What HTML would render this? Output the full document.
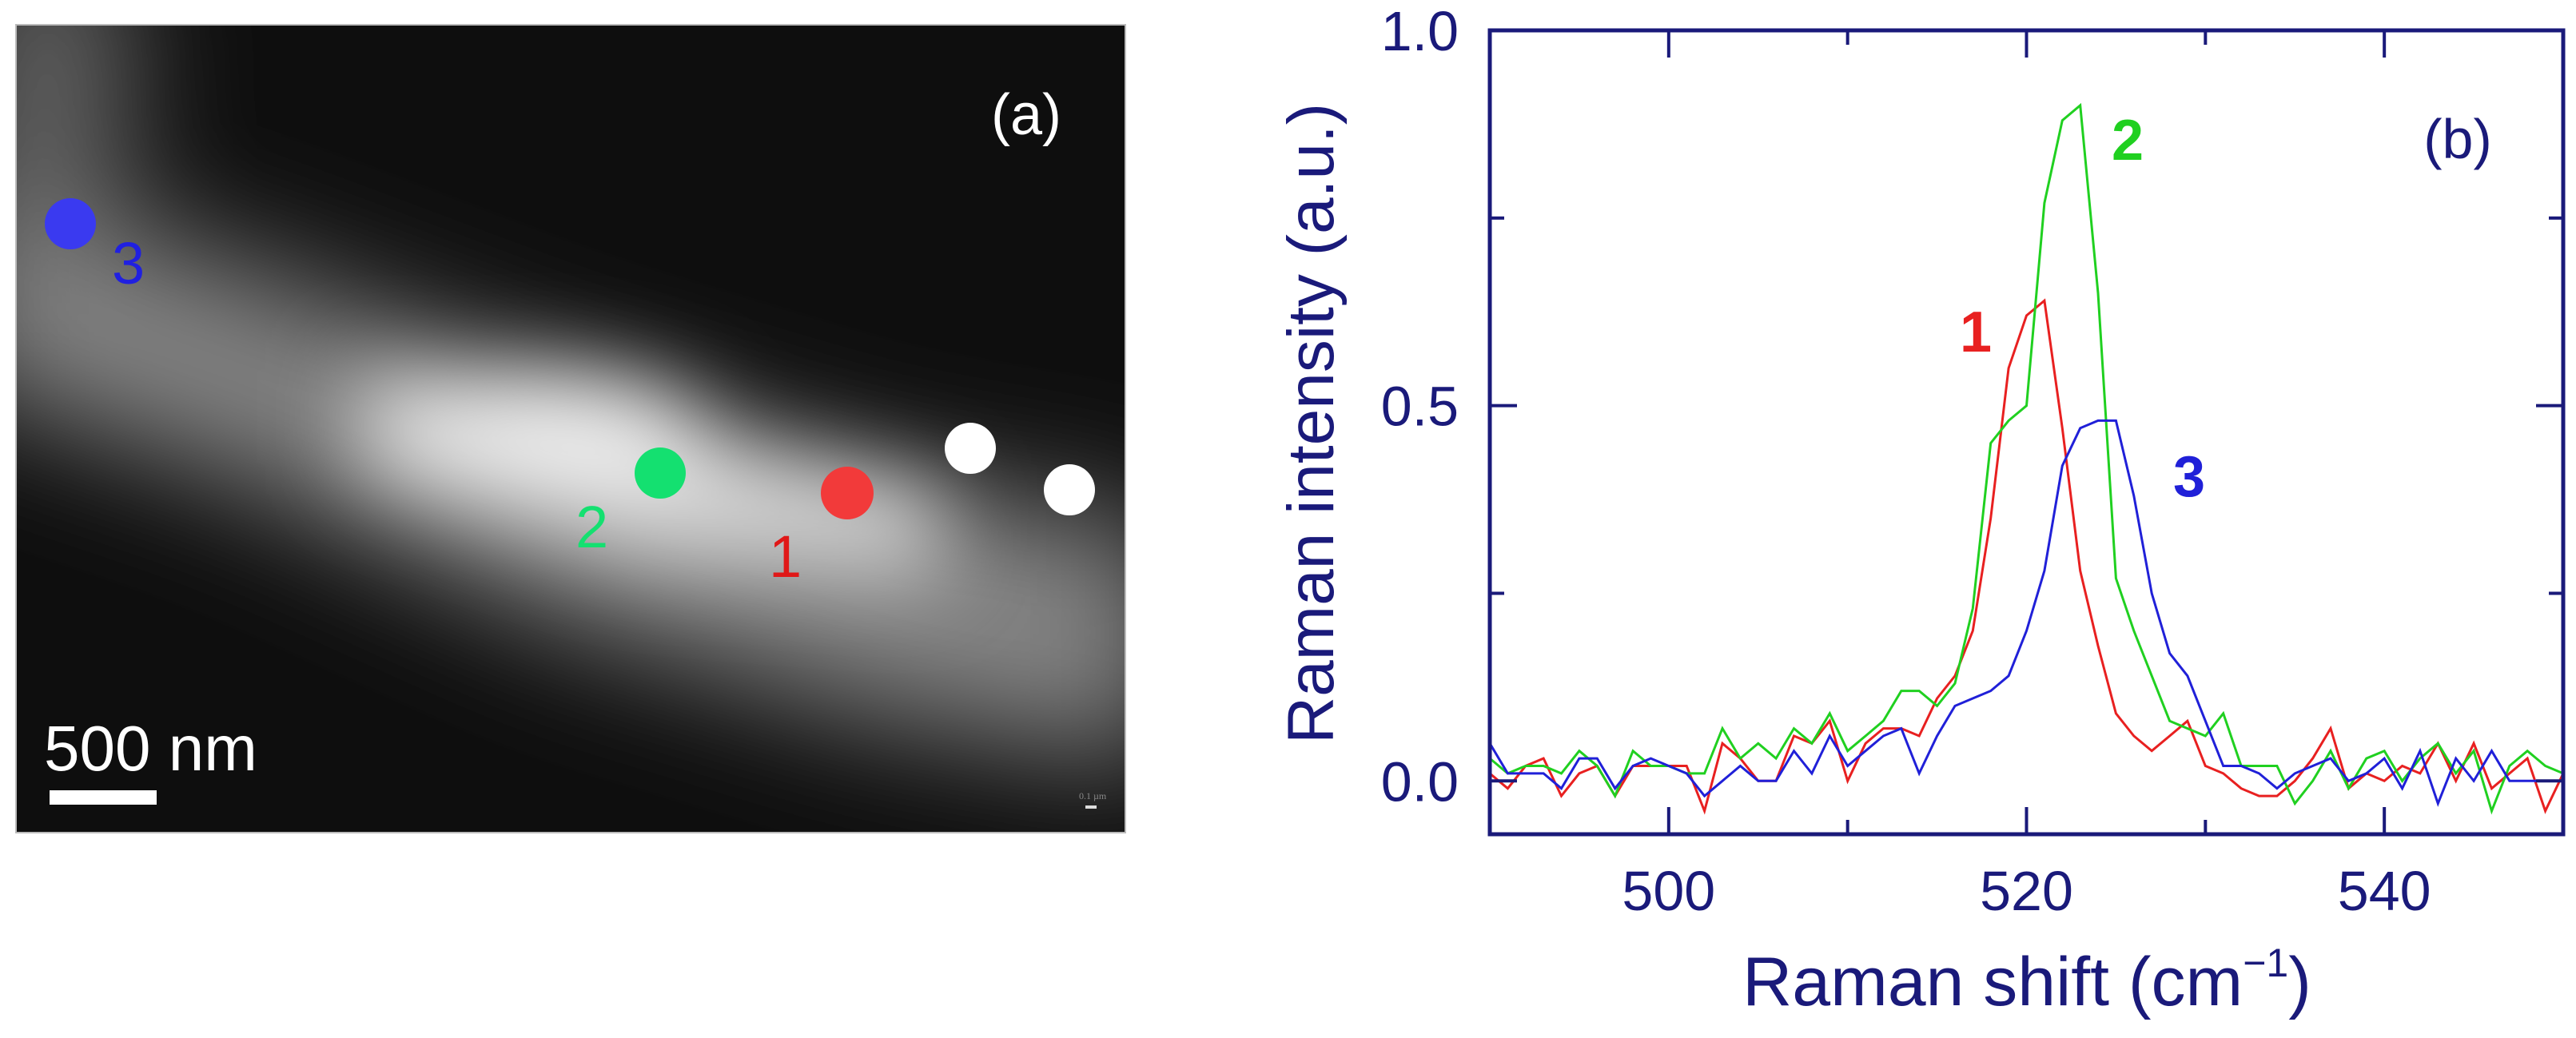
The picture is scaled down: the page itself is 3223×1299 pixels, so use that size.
<!DOCTYPE html>
<html><head><meta charset="utf-8"><style>
html,body{margin:0;padding:0;background:#fff;}
svg{display:block;font-family:"Liberation Sans",sans-serif;}
</style></head><body>
<svg id="fig" width="3223" height="1299" viewBox="0 0 3223 1299">
<defs>
<clipPath id="imgclip"><rect x="20" y="31" width="1388" height="1011"/></clipPath>
<filter id="blur" x="-50%" y="-50%" width="200%" height="200%"><feGaussianBlur stdDeviation="80"/></filter>
<filter id="blur2" x="-50%" y="-50%" width="200%" height="200%"><feGaussianBlur stdDeviation="55"/></filter>
<clipPath id="plotclip"><rect x="1864" y="38" width="1343" height="1006"/></clipPath>
</defs>
<g clip-path="url(#imgclip)">
<rect x="20" y="31" width="1388" height="1011" fill="#0e0e0e"/>
<g filter="url(#blur)">
<polygon points="-60,220 300,330 700,480 1100,600 1460,660 1460,960 1100,900 700,780 300,600 -60,480" fill="#858585"/>
<ellipse cx="60" cy="100" rx="100" ry="200" fill="#6a6a6a"/>
</g>
<g filter="url(#blur2)">
<polygon points="450,460 800,540 1180,620 1180,720 800,690 450,580" fill="#dcdcdc"/>
<ellipse cx="680" cy="540" rx="200" ry="70" fill="#f0f0f0"/>
</g>
</g>
<rect x="20" y="31" width="1388" height="1011" fill="none" stroke="#bbb" stroke-width="2"/>
<circle cx="88" cy="280" r="32" fill="#3a3af0"/>
<circle cx="826" cy="592" r="32" fill="#14e070"/>
<circle cx="1060" cy="617" r="33" fill="#f23a3a"/>
<circle cx="1214" cy="561" r="32" fill="#fff"/>
<circle cx="1338" cy="613" r="32" fill="#fff"/>
<text x="140" y="355" font-size="74" fill="#2020e0">3</text>
<text x="720" y="685" font-size="74" fill="#14e070">2</text>
<text x="962" y="722" font-size="74" fill="#e01818">1</text>
<text x="1240" y="168" font-size="72" fill="#fff">(a)</text>
<text x="55" y="964" font-size="80" fill="#fff">500 nm</text>
<rect x="62" y="989" width="134" height="18" fill="#fff"/>
<text x="1350" y="1000" font-size="12" fill="#888" font-family="Liberation Serif, serif">0.1 µm</text>
<rect x="1358" y="1008" width="14" height="4" fill="#ddd"/>
<g id="chart"></g>
</svg>
<script>
const xs = [];for(let i=490;i<=550;i++)xs.push(i);
const red = [0.01,-0.01,0.02,0.03,-0.02,0.01,0.02,-0.02,0.02,0.02,0.02,0.02,-0.04,0.05,0.03,0.0,0.0,0.06,0.05,0.08,0.0,0.05,0.07,0.07,0.06,0.11,0.14,0.2,0.35,0.55,0.62,0.64,0.47,0.28,0.18,0.09,0.06,0.04,0.06,0.08,0.02,0.01,-0.01,-0.02,-0.02,0.0,0.03,0.07,-0.01,0.01,0.0,0.02,0.01,0.05,0.0,0.05,-0.01,0.01,0.03,-0.04,0.01];
const green = [0.03,0.01,0.02,0.02,0.01,0.04,0.02,-0.02,0.04,0.02,0.02,0.01,0.01,0.07,0.03,0.05,0.03,0.07,0.05,0.09,0.04,0.06,0.08,0.12,0.12,0.1,0.13,0.23,0.45,0.48,0.5,0.77,0.88,0.9,0.65,0.27,0.2,0.14,0.08,0.07,0.06,0.09,0.02,0.02,0.02,-0.03,0.0,0.04,-0.01,0.03,0.04,0.0,0.03,0.05,0.01,0.04,-0.04,0.02,0.04,0.02,0.01];
const blue = [0.05,0.01,0.01,0.01,-0.01,0.03,0.03,-0.01,0.02,0.03,0.02,0.01,-0.02,0.0,0.02,0.0,0.0,0.04,0.01,0.06,0.02,0.04,0.06,0.07,0.01,0.06,0.1,0.11,0.12,0.14,0.2,0.28,0.42,0.47,0.48,0.48,0.38,0.25,0.17,0.14,0.08,0.02,0.02,0.01,-0.01,0.01,0.02,0.03,0.0,0.01,0.03,-0.01,0.04,-0.03,0.03,0.0,0.04,0.0,0.0,0.0,0.0];
const xTicks = [500,520,540];
const xTickLabels = ["500","520","540"];
const xMinor = [490,510,530,550];
const yTicks = [0,0.5,1.0];
const yTickLabels = ["0.0","0.5","1.0"];
const yMinor = [0.25,0.75];

const L=1864,R=3207,T=38,B=1044,X0=490,X1=550,Y0=-0.071,Y1=1.0;
const NAVY="#1a1a7a";
const sx=v=>L+(v-X0)/(X1-X0)*(R-L);
const sy=v=>B-(v-Y0)/(Y1-Y0)*(B-T);
const NS="http://www.w3.org/2000/svg";
const g=document.getElementById('chart');
function mk(tag,attrs,parent){const e=document.createElementNS(NS,tag);for(const k in attrs)e.setAttribute(k,attrs[k]);(parent||g).appendChild(e);return e;}

const series=[[red,"#e82020","series-1-red"],[green,"#20d020","series-2-green"],[blue,"#2020d8","series-3-blue"]];
const pg=mk('g',{'clip-path':'url(#plotclip)'});


series.forEach(([d,c,n])=>{
  const p=mk('polyline',{points:d.map((v,i)=>sx(xs[i]).toFixed(1)+','+sy(v).toFixed(1)).join(' '),fill:'none',stroke:c,'stroke-width':3},pg);
  
  
});
const fr=mk('rect',{x:L,y:T,width:R-L,height:B-T,fill:'none',stroke:NAVY,'stroke-width':5});


function tick(x1,y1,x2,y2){mk('line',{x1,y1,x2,y2,stroke:NAVY,'stroke-width':4});}
xTicks.forEach((v,i)=>{const x=sx(v);tick(x,B,x,B-34);tick(x,T,x,T+34);
  const t=mk('text',{x:x,y:1139,'font-size':70,fill:NAVY,'text-anchor':'middle'});t.textContent=xTickLabels[i];
  
  });
xMinor.forEach(v=>{const x=sx(v);tick(x,B,x,B-18);tick(x,T,x,T+18);});
yTicks.forEach((v,i)=>{const y=sy(v);tick(L,y,L+34,y);tick(R,y,R-34,y);
  const t=mk('text',{x:1825,y:y+25,'font-size':70,fill:NAVY,'text-anchor':'end'});t.textContent=yTickLabels[i];
  
  });
yMinor.forEach(v=>{const y=sy(v);tick(L,y,L+18,y);tick(R,y,R-18,y);});

const xt=mk('text',{x:2536,y:1258,'font-size':86,fill:NAVY,'text-anchor':'middle'});
xt.innerHTML='Raman shift (cm<tspan dy="-36" font-size="50">−1</tspan><tspan dy="36">)</tspan>';


const yt=mk('text',{x:0,y:0,'font-size':82,fill:NAVY,'text-anchor':'middle',transform:'translate(1668,530) rotate(-90)'});
yt.textContent='Raman intensity (a.u.)';


function lab(txt,x,y,c,fs,bold,name){const t=mk('text',{x,y,'font-size':fs,fill:c,'text-anchor':'middle','font-weight':bold?'bold':'normal'});t.textContent=txt;
  
  }
lab('(b)',3075,198,NAVY,70,false,'panel-b-label');
lab('2',2662,200,'#20d020',72,true,'series-2-label');
lab('1',2472,440,'#e82020',72,true,'series-1-label');
lab('3',2739,621,'#2020d8',72,true,'series-3-label');
</script>
</body></html>
